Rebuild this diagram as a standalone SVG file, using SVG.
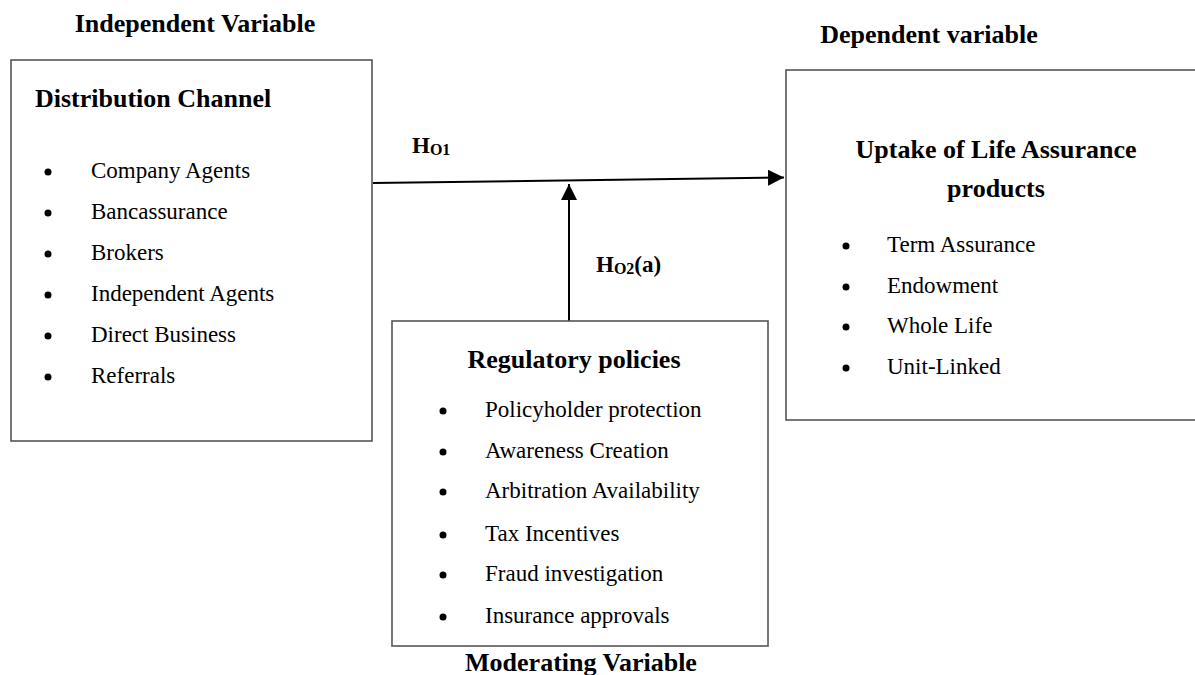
<svg xmlns="http://www.w3.org/2000/svg" width="1195" height="675" viewBox="0 0 1195 675">
<style>
.box{fill:#fff;stroke:#555;stroke-width:1.6}
.t{font-family:"Liberation Serif","Times New Roman",serif;font-size:23px;fill:#000}
.b{font-family:"Liberation Serif","Times New Roman",serif;font-size:26px;font-weight:bold;fill:#000}
.h{font-family:"Liberation Serif","Times New Roman",serif;font-size:23px;font-weight:bold;fill:#000}
.sub{font-size:16px;font-weight:bold}
.bul{fill:#000}
.conn{stroke:#000;stroke-width:2;fill:none}
</style>
<defs>
<marker id="arr" viewBox="0 0 16 16" refX="16" refY="8" markerWidth="16" markerHeight="16" markerUnits="userSpaceOnUse" orient="auto">
<path d="M0,0 L16,8 L0,16 z" fill="#000"/>
</marker>
</defs>
<rect width="1195" height="675" fill="#fff"/>

<g id="label-independent"><text class="b" x="195" y="32" text-anchor="middle">Independent Variable</text></g>
<g id="label-dependent"><text class="b" x="929" y="43" text-anchor="middle">Dependent variable</text></g>
<g id="label-moderating"><text class="b" x="581" y="671" text-anchor="middle">Moderating Variable</text></g>

<g id="connectors">
<line class="conn" x1="373" y1="183" x2="784" y2="177.5" marker-end="url(#arr)"/>
<line class="conn" x1="569" y1="321" x2="569" y2="184" marker-end="url(#arr)"/>
<text class="h" x="412" y="153">H<tspan class="sub" dy="2">O1</tspan></text>
<text class="h" x="596" y="272">H<tspan class="sub" dy="2">O2</tspan><tspan dy="-2">(a)</tspan></text>
</g>

<g id="node-distribution">
<rect class="box" x="11" y="60" width="361" height="381"/>
<text class="b" x="35" y="107">Distribution Channel</text>
<circle class="bul" cx="48" cy="172" r="3.5"/><text class="t" x="91" y="178">Company Agents</text>
<circle class="bul" cx="48" cy="213" r="3.5"/><text class="t" x="91" y="219">Bancassurance</text>
<circle class="bul" cx="48" cy="254" r="3.5"/><text class="t" x="91" y="260">Brokers</text>
<circle class="bul" cx="48" cy="295" r="3.5"/><text class="t" x="91" y="301">Independent Agents</text>
<circle class="bul" cx="48" cy="336" r="3.5"/><text class="t" x="91" y="342">Direct Business</text>
<circle class="bul" cx="48" cy="377" r="3.5"/><text class="t" x="91" y="383">Referrals</text>
</g>

<g id="node-uptake">
<rect class="box" x="786" y="70" width="420" height="350"/>
<text class="b" x="996" y="158" text-anchor="middle">Uptake of Life Assurance</text>
<text class="b" x="996" y="197" text-anchor="middle">products</text>
<circle class="bul" cx="846" cy="246" r="3.5"/><text class="t" x="887" y="252">Term Assurance</text>
<circle class="bul" cx="846" cy="287" r="3.5"/><text class="t" x="887" y="293">Endowment</text>
<circle class="bul" cx="846" cy="327" r="3.5"/><text class="t" x="887" y="333">Whole Life</text>
<circle class="bul" cx="846" cy="368" r="3.5"/><text class="t" x="887" y="374">Unit-Linked</text>
</g>

<g id="node-regulatory">
<rect class="box" x="392" y="321" width="376" height="325"/>
<text class="b" x="574" y="368" text-anchor="middle">Regulatory policies</text>
<circle class="bul" cx="443" cy="411" r="3.5"/><text class="t" x="485" y="417">Policyholder protection</text>
<circle class="bul" cx="443" cy="452" r="3.5"/><text class="t" x="485" y="458">Awareness Creation</text>
<circle class="bul" cx="443" cy="492" r="3.5"/><text class="t" x="485" y="498">Arbitration Availability</text>
<circle class="bul" cx="443" cy="535" r="3.5"/><text class="t" x="485" y="541">Tax Incentives</text>
<circle class="bul" cx="443" cy="575" r="3.5"/><text class="t" x="485" y="581">Fraud investigation</text>
<circle class="bul" cx="443" cy="617" r="3.5"/><text class="t" x="485" y="623">Insurance approvals</text>
</g>
</svg>
